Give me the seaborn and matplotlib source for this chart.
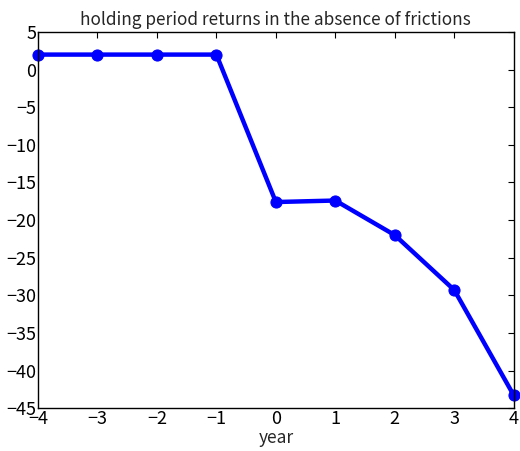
import matplotlib

matplotlib.use("Agg")
import matplotlib.pyplot as plt
import pandas as pd
import seaborn as sns

sns.set_theme(style="white")
plt.rcParams["font.family"] = ["Noto Sans CJK JP", "DejaVu Sans"]

years = [-4, -3, -2, -1, 0, 1, 2, 3, 4]
returns = [2.0, 2.0, 2.0, 2.0, -17.6, -17.4, -22.0, -29.3, -43.3]

df = pd.DataFrame({"year": years, "ret": returns})

fig = plt.figure(figsize=(5.2, 4.51), dpi=100)
ax = fig.add_axes([0.073, 0.095, 0.915, 0.834])

sns.lineplot(data=df, x="year", y="ret", ax=ax, color="#0000ff", linewidth=3.2,
             marker="o", markersize=8, markeredgecolor="#0000ff", clip_on=False)

ax.set_xlim(-4, 4)
ax.set_ylim(-45, 5)
ax.set_xticks(range(-4, 5))
ax.set_yticks(range(-45, 6, 5))
ax.set_xticklabels([str(v).replace("-", "\u2212") for v in range(-4, 5)])
ax.set_yticklabels([str(v).replace("-", "\u2212") for v in range(-45, 6, 5)])
ax.tick_params(direction="in", length=4, width=0.8, top=True, right=True,
               labelsize=13, colors="black", pad=1)
for s in ax.spines.values():
    s.set_color("black")
    s.set_linewidth(1.0)
ax.set_xlabel("year", fontsize=12.5, labelpad=1)
ax.set_ylabel("")
ax.set_title("holding period returns in the absence of frictions", fontsize=12.4, pad=5)

fig.savefig("out.png", dpi=100)
